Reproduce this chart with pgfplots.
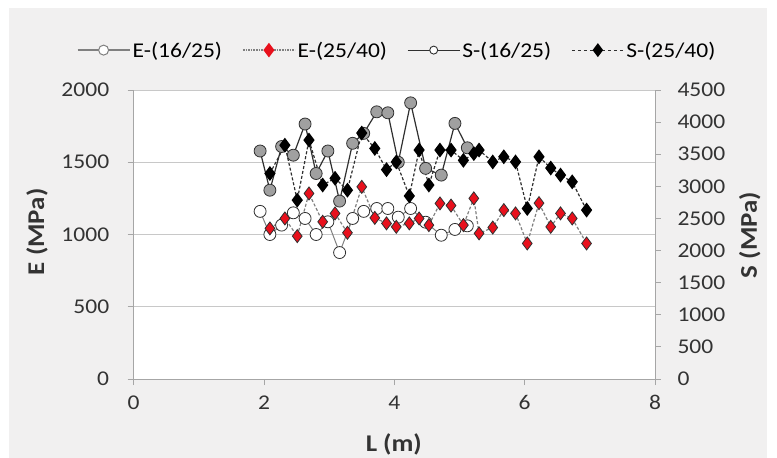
\documentclass[border=0pt]{standalone}
\usepackage{pgfplots}
\pgfplotsset{compat=1.18}
\usepackage{fontspec}
\setmainfont{Carlito}[FakeStretch=1.12]
\definecolor{bg}{HTML}{F1F0F0}
\definecolor{axgray}{HTML}{A6A6A6}
\definecolor{gridgray}{HTML}{C8C8C8}
\definecolor{mkred}{HTML}{E8101C}
\definecolor{circgray}{HTML}{A0A0A0}
\definecolor{edge}{HTML}{303030}
\begin{document}
\begin{tikzpicture}
\fill[white] (-133.7pt,-79pt) rectangle (643.3pt,379pt);
\fill[bg] (-124.7pt,-79pt) rectangle (633.3pt,371pt);
\useasboundingbox (-133.7pt,-79pt) rectangle (643.3pt,379pt);
\pgfplotsset{
  common/.style={
    at={(0,0)}, anchor=south west,
    scale only axis, width=521.3pt, height=289pt,
    xmin=0, xmax=8,
    tick align=outside, major tick length=6pt,
    tick style={axgray, line width=0.8pt},
    axis line style={axgray, line width=0.8pt},
    /pgf/number format/assume math mode=true,
    /pgf/number format/1000 sep={},
    tick label style={font=\fontsize{21}{23}\selectfont, text=black!80},
    label style={font=\bfseries\fontsize{24}{26}\selectfont, text=black!80},
  }
}
\begin{axis}[
  common,
  axis background/.style={fill=white},
  ymin=0, ymax=2000,
  xtick={0,2,4,6,8}, ytick={0,500,1000,1500,2000},
  axis x line*=bottom, axis y line*=left,
  ymajorgrids, grid style={gridgray, line width=0.9pt},
  xlabel={L (m)}, ylabel={E (MPa)},
  xlabel style={at={(axis description cs:0.499,-0.228)}, anchor=center},
  ylabel style={at={(axis description cs:-0.1855,0.509)}, anchor=center},
  xticklabel style={yshift=-7pt},
  yticklabel style={xshift=-15pt},
  legend style={at={(axis description cs:0.505,1.138)}, anchor=center,
    draw=none, fill=none, font=\fontsize{21}{23}\selectfont,
    /tikz/every even column/.append style={column sep=18pt}},
  legend columns=4,
  legend cell align=left,
  legend image code/.code={\draw[mark repeat=2, mark phase=2, #1]
    plot coordinates {(0pt,0pt) (26pt,0pt) (52pt,0pt)};},
]
\addlegendimage{gray, line width=2.2pt, mark=*, mark size=5pt, mark options={fill=white, draw=gray, line width=1pt, solid}}
\addlegendentry{E-(16/25)}
\addlegendimage{gray, line width=1.6pt, densely dotted, mark=diamond*, mark size=6pt, mark options={fill=mkred, draw=mkred, solid}}
\addlegendentry{E-(25/40)}
\addlegendimage{edge, line width=1.2pt, mark=*, mark size=4pt, mark options={fill=white, draw=edge, line width=0.9pt, solid}}
\addlegendentry{S-(16/25)}
\addlegendimage{edge, line width=1.2pt, dashed, mark=diamond*, mark size=6pt, mark options={fill=black, draw=black, solid}}
\addlegendentry{S-(25/40)}

% E-(16/25)
\addplot[gray, line width=1pt, mark=*, mark size=6pt,
  mark options={fill=white, draw=edge, line width=0.8pt, solid}, forget plot] coordinates {
(1.94,1160) (2.09,1000) (2.27,1065) (2.45,1150) (2.63,1111) (2.80,1000)
(2.98,1088) (3.16,875) (3.36,1111) (3.53,1160) (3.73,1180) (3.90,1180)
(4.06,1120) (4.25,1180) (4.48,1085) (4.72,995) (4.93,1035) (5.12,1060)
};
% E-(25/40)
\addplot[gray, line width=1.2pt, densely dashed, mark=diamond*, mark size=6.5pt,
  mark options={fill=mkred, draw=edge, line width=0.8pt, solid}, forget plot] coordinates {
(2.09,1042) (2.32,1111) (2.51,989) (2.69,1284) (2.90,1088) (3.09,1146)
(3.28,1012) (3.50,1330) (3.70,1115) (3.88,1077) (4.03,1053) (4.23,1077)
(4.38,1111) (4.53,1065) (4.70,1215) (4.87,1200) (5.06,1065) (5.22,1250)
(5.30,1008) (5.51,1048) (5.68,1169) (5.86,1146) (6.04,938) (6.22,1217)
(6.40,1053) (6.55,1146) (6.73,1111) (6.95,938)
};
\end{axis}
\begin{axis}[
  common,
  ymin=0, ymax=4500,
  ytick={0,500,...,4500},
  axis x line=none, axis y line*=right,
  ylabel={S (MPa)},
  ylabel style={at={(axis description cs:1.182,0.498)}, anchor=center},
  yticklabel style={xshift=13pt},
]
% S-(16/25)
\addplot[edge, line width=1.2pt, mark=*, mark size=6pt,
  mark options={fill=circgray, draw=edge, line width=0.8pt, solid}] coordinates {
(1.94,3550) (2.09,2940) (2.27,3620) (2.45,3485) (2.63,3970) (2.80,3200)
(2.98,3550) (3.16,2770) (3.36,3670) (3.53,3825) (3.73,4160) (3.90,4145)
(4.06,3375) (4.25,4300) (4.48,3280) (4.72,3175) (4.93,3980) (5.12,3600)
};
% S-(25/40)
\addplot[edge, line width=1.2pt, densely dashed, mark=diamond*, mark size=6.5pt,
  mark options={fill=black, draw=black, solid}] coordinates {
(2.09,3200) (2.32,3640) (2.51,2785) (2.69,3720) (2.90,3020) (3.09,3125)
(3.28,2940) (3.50,3830) (3.70,3590) (3.88,3260) (4.03,3380) (4.23,2850)
(4.38,3565) (4.53,3020) (4.70,3565) (4.87,3565) (5.06,3405) (5.22,3510)
(5.30,3565) (5.51,3380) (5.68,3460) (5.86,3380) (6.04,2655) (6.22,3460)
(6.40,3285) (6.55,3175) (6.73,3070) (6.95,2630)
};
\end{axis}
\end{tikzpicture}
\end{document}
